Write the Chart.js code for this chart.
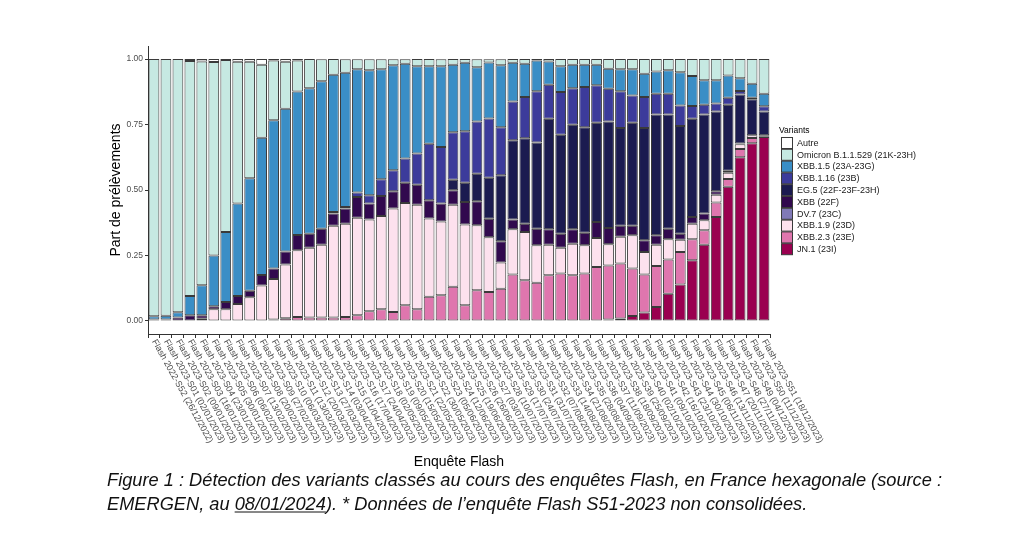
<!DOCTYPE html>
<html>
<head>
<meta charset="utf-8">
<script src="https://cdn.jsdelivr.net/npm/chart.js@4.4.1/dist/chart.umd.min.js"></script>
<style>
html,body{margin:0;padding:0;background:#fff;}
#wrap{width:1024px;height:550px;position:relative;}
</style>
</head>
<body>
<div id="wrap"><canvas id="c" width="1024" height="550"></canvas></div>
<script>
const xLabels = [
"Flash 2022-S52 (26/12/2022)","Flash 2023-S01 (02/01/2023)","Flash 2023-S02 (09/01/2023)","Flash 2023-S03 (16/01/2023)",
"Flash 2023-S04 (23/01/2023)","Flash 2023-S05 (30/01/2023)","Flash 2023-S06 (06/02/2023)","Flash 2023-S07 (13/02/2023)",
"Flash 2023-S08 (20/02/2023)","Flash 2023-S09 (27/02/2023)","Flash 2023-S10 (06/03/2023)","Flash 2023-S11 (13/03/2023)",
"Flash 2023-S12 (20/03/2023)","Flash 2023-S13 (27/03/2023)","Flash 2023-S14 (03/04/2023)","Flash 2023-S15 (11/04/2023)",
"Flash 2023-S16 (17/04/2023)","Flash 2023-S17 (24/04/2023)","Flash 2023-S18 (02/05/2023)","Flash 2023-S19 (09/05/2023)",
"Flash 2023-S20 (15/05/2023)","Flash 2023-S21 (22/05/2023)","Flash 2023-S22 (30/05/2023)","Flash 2023-S23 (05/06/2023)",
"Flash 2023-S24 (12/06/2023)","Flash 2023-S25 (19/06/2023)","Flash 2023-S26 (26/06/2023)","Flash 2023-S27 (03/07/2023)",
"Flash 2023-S28 (10/07/2023)","Flash 2023-S29 (17/07/2023)","Flash 2023-S30 (24/07/2023)","Flash 2023-S31 (31/07/2023)",
"Flash 2023-S32 (07/08/2023)","Flash 2023-S33 (14/08/2023)","Flash 2023-S34 (21/08/2023)","Flash 2023-S35 (28/08/2023)",
"Flash 2023-S36 (04/09/2023)","Flash 2023-S37 (11/09/2023)","Flash 2023-S38 (18/09/2023)","Flash 2023-S39 (25/09/2023)",
"Flash 2023-S40 (02/10/2023)","Flash 2023-S41 (09/10/2023)","Flash 2023-S42 (16/10/2023)","Flash 2023-S43 (23/10/2023)",
"Flash 2023-S44 (30/10/2023)","Flash 2023-S45 (06/11/2023)","Flash 2023-S46 (13/11/2023)","Flash 2023-S47 (20/11/2023)",
"Flash 2023-S48 (27/11/2023)","Flash 2023-S49 (04/12/2023)","Flash 2023-S50 (11/12/2023)","Flash 2023-S51 (18/12/2023)"
];
const yTickValues = [0, 0.25, 0.5, 0.75, 1];

const jn1 = [0,0,0,0,0,0,0,0,0,0,0,0,0,0,0,0,0,0,0,0,0,0,0,0,0,0,0,0,0,0,0,0,0,0,0,0,0,0,
  0.005,0.009,0.019,0.032,0.053,0.104,0.139,0.232,0.291,0.397,0.512,0.625,0.679,0.702];
const xbb23 = [0,0,0,0,0,0,0,0,0,0,0.005,0.01,0.015,0.013,0.013,0.013,0.015,0.022,0.037,0.045,0.034,0.06,0.045,0.092,0.098,0.13,
  0.06,0.117,0.11,0.123,0.177,0.155,0.146,0.174,0.181,0.174,0.181,0.206,0.207,0.21,0.181,0.145,0.157,0.131,0.124,0.08,0.055,0.055,0.03,0.032,0.02,0.003];
const xbb19 = [0,0,0,0,0.008,0.045,0.045,0.065,0.09,0.135,0.155,0.205,0.255,0.266,0.278,0.35,0.356,0.372,0.35,0.356,0.395,0.39,0.399,0.299,0.282,0.314,
  0.308,0.248,0.21,0.1,0.173,0.185,0.143,0.117,0.098,0.121,0.108,0.111,0.081,0.102,0.127,0.086,0.081,0.077,0.047,0.059,0.038,0.03,0.024,0.018,0.01,0.004];
const dv7 = [0,0,0,0,0,0,0,0,0,0,0,0,0,0,0,0,0,0,0,0,0,0,0,0,0,0,0,0,0,0,0,0,0,0,0,0,0,0,0,0,0,0,0,0,0,0,0,0,0,0,0,0];
const xbb = [0.005,0.005,0.013,0.022,0.014,0.011,0.027,0.03,0.025,0.04,0.04,0.05,0.058,0.054,0.061,0.047,0.058,0.079,0.061,0.076,0.066,0.078,0.076,0.07,0.068,0.055,
  0.086,0.092,0.07,0.081,0.037,0.031,0.063,0.059,0.054,0.055,0.048,0.061,0.062,0.042,0.036,0.045,0.036,0.04,0.023,0.026,0.026,0.013,0.008,0.003,0,0];
const eg5 = [0,0,0,0,0,0,0,0,0,0,0,0,0,0,0,0,0,0,0,0,0,0,0,0,0,0.04,
  0.074,0.105,0.157,0.252,0.303,0.327,0.329,0.422,0.378,0.399,0.403,0.379,0.407,0.374,0.394,0.429,0.461,0.436,0.411,0.375,0.378,0.305,0.252,0.187,0.138,0.091];
const xbb116 = [0,0,0,0,0,0,0,0,0,0,0,0,0,0,0,0.006,0.006,0.017,0.032,0.064,0.08,0.092,0.119,0.216,0.216,0.182,
  0.196,0.2,0.226,0.184,0.148,0.157,0.196,0.13,0.163,0.14,0.153,0.143,0.125,0.14,0.104,0.118,0.08,0.08,0.079,0.049,0.038,0.03,0.026,0.013,0.005,0.02];
const xbb15 = [0.013,0.015,0.02,0.073,0.114,0.194,0.268,0.353,0.43,0.525,0.566,0.545,0.548,0.556,0.563,0.524,0.513,0.471,0.477,0.42,0.401,0.362,0.334,0.296,0.309,0.257,
  0.262,0.207,0.214,0.236,0.148,0.127,0.118,0.089,0.099,0.089,0.085,0.078,0.076,0.084,0.1,0.089,0.085,0.089,0.127,0.114,0.093,0.089,0.085,0.049,0.054,0.048];
const omicron = [0.982,0.98,0.967,0.898,0.855,0.739,0.657,0.542,0.445,0.278,0.229,0.18,0.119,0.111,0.084,0.06,0.051,0.038,0.042,0.038,0.023,0.017,0.027,0.027,0.026,0.022,
  0.014,0.03,0.012,0.023,0.014,0.018,0.005,0.009,0.027,0.022,0.022,0.022,0.037,0.039,0.039,0.056,0.047,0.043,0.05,0.065,0.081,0.081,0.063,0.073,0.094,0.132];
const autre = [0,0,0,0.007,0.009,0.011,0.003,0.01,0.01,0.022,0.005,0.01,0.005,0,0.001,0,0.001,0.001,0.001,0.001,0.001,0.001,0,0,0.001,0,
  0,0.001,0.001,0.001,0,0,0,0,0,0,0,0,0,0,0,0,0,0,0,0,0,0,0,0,0,0];

// bottom -> top stacking order
const seriesNames = ["JN.1 (23I)","XBB.2.3 (23E)","XBB.1.9 (23D)","DV.7 (23C)","XBB (22F)","EG.5 (22F-23F-23H)","XBB.1.16 (23B)","XBB.1.5 (23A-23G)","Omicron B.1.1.529 (21K-23H)","Autre"];
const seriesValues = [jn1, xbb23, xbb19, dv7, xbb, eg5, xbb116, xbb15, omicron, autre];
const seriesColors = ["#9a0050","#df76ae","#fde1ee","#8079b7","#31094e","#1b1b50","#3c3b9b","#3a8ec6","#c6e9e2","#ffffff"];

const datasets = seriesNames.map((n, k) => ({
  label: n,
  data: seriesValues[k].map(v => v > 0 ? v : null),
  backgroundColor: seriesColors[k],
  borderColor: "#3a3a3a",
  borderWidth: 1,
  borderSkipped: false,
  barPercentage: 0.9,
  categoryPercentage: 1.0
}));

const extras = {
  id: 'extras',
  afterDraw(chart) {
    const ctx = chart.ctx, xs = chart.scales.x;
    ctx.save();
    // rotated category labels
    ctx.font = '9px "Liberation Sans", Arial, sans-serif';
    ctx.fillStyle = '#4d4d4d';
    ctx.textAlign = 'left';
    ctx.textBaseline = 'middle';
    xLabels.forEach((lab, i) => {
      const x = xs.getPixelForValue(i);
      ctx.save();
      ctx.translate(x, 340);
      ctx.rotate(61 * Math.PI / 180);
      ctx.fillText(lab, 0, 0);
      ctx.restore();
    });
    // legend
    ctx.fillStyle = '#000';
    ctx.font = '8.5px "Liberation Sans", Arial, sans-serif';
    ctx.textBaseline = 'middle';
    ctx.fillText('Variants', 779, 131);
    ctx.font = '9px "Liberation Sans", Arial, sans-serif';
    const ds = chart.data.datasets.slice().reverse();
    ds.forEach((d, j) => {
      const y = 137.5 + j * 11.8;
      ctx.fillStyle = d.backgroundColor;
      ctx.fillRect(781.5, y, 11, 11);
      ctx.strokeStyle = '#3a3a3a';
      ctx.lineWidth = 1;
      ctx.strokeRect(781.5, y, 11, 11);
      ctx.fillStyle = '#1a1a1a';
      ctx.fillText(d.label, 797, y + 5.8);
    });
    // caption
    const l1 = "Figure 1 : Détection des variants classés au cours des enquêtes Flash, en France hexagonale (source :";
    const p1 = "EMERGEN, au ", p2 = "08/01/2024", p3 = "). * Données de l’enquête Flash S51-2023 non consolidées.";
    ctx.font = 'italic 19px "Liberation Sans Narrow", "Liberation Sans", Arial, sans-serif';
    ctx.textBaseline = 'alphabetic';
    ctx.fillStyle = '#111';
    const s = 835 / ctx.measureText(l1).width;
    ctx.save(); ctx.translate(107, 486); ctx.scale(s, 1); ctx.fillText(l1, 0, 0); ctx.restore();
    const w1 = ctx.measureText(p1).width, w2 = ctx.measureText(p2).width;
    ctx.save(); ctx.translate(107, 509.5); ctx.scale(s, 1);
    ctx.fillText(p1, 0, 0); ctx.fillText(p2, w1, 0); ctx.fillText(p3, w1 + w2, 0);
    ctx.restore();
    ctx.strokeStyle = '#111'; ctx.lineWidth = 1;
    ctx.beginPath(); ctx.moveTo(107 + s * w1, 512); ctx.lineTo(107 + s * (w1 + w2), 512); ctx.stroke();
    ctx.restore();
  }
};

new Chart(document.getElementById('c'), {
  type: 'bar',
  data: { labels: xLabels, datasets },
  options: {
    responsive: false,
    animation: false,
    events: [],
    layout: { padding: { left: 104, right: 254, top: 46, bottom: 0 } },
    plugins: { legend: { display: false }, tooltip: { enabled: false } },
    scales: {
      x: {
        stacked: true,
        offset: true,
        grid: { display: true, drawOnChartArea: false, drawTicks: true, tickLength: 4, color: '#333', lineWidth: 1 },
        border: { display: true, color: '#333', width: 1 },
        ticks: { display: false, autoSkip: false },
        title: { display: true, text: 'Enquête Flash', color: '#000',
                 font: { family: '"Liberation Sans", Arial, sans-serif', size: 14 },
                 padding: { top: 0, bottom: 79 } },
        afterFit: s => { s.height = 216; }
      },
      y: {
        stacked: true,
        min: -0.05, max: 1.05,
        grid: { display: true, drawOnChartArea: false, drawTicks: true, tickLength: 3, color: '#333', lineWidth: 1 },
        border: { display: true, color: '#333', width: 1 },
        afterBuildTicks: s => { s.ticks = yTickValues.map(v => ({ value: v })); },
        ticks: { color: '#4d4d4d', padding: 2,
                 font: { family: '"Liberation Sans", Arial, sans-serif', size: 8.5 },
                 callback: v => Number(v).toFixed(2) },
        title: { display: true, text: 'Part de prélèvements', color: '#000',
                 font: { family: '"Liberation Sans", Arial, sans-serif', size: 14 },
                 padding: { top: 4, bottom: 0 } },
        afterFit: s => { s.width = 44; }
      }
    }
  },
  plugins: [extras]
});
</script>
</body>
</html>
